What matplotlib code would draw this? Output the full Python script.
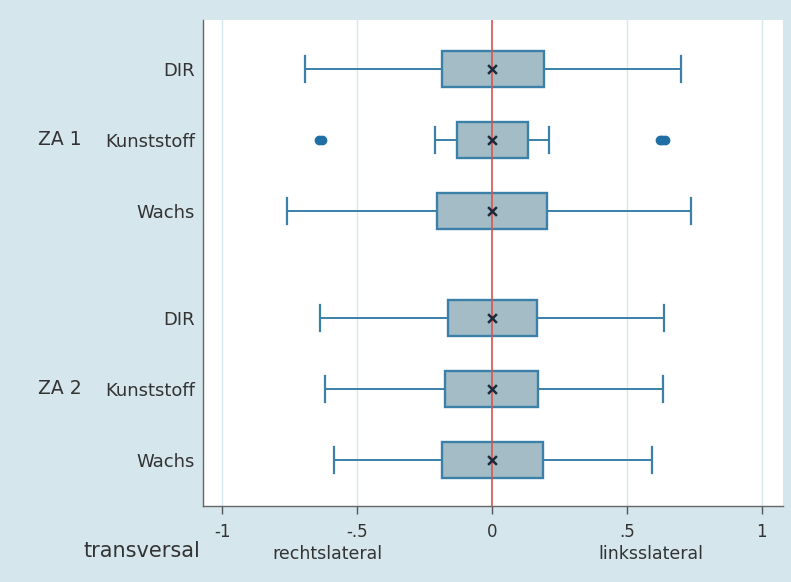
import matplotlib.pyplot as plt
import numpy as np

plt.rcParams['font.family'] = ['DejaVu Sans']

# Daten
groups = ['ZA 1', 'ZA 2']
labels = ['DIR', 'Kunststoff', 'Wachs', 'DIR', 'Kunststoff', 'Wachs']
positions = [0, 1, 2, 3.5, 4.5, 5.5]
whislo = [-0.693, -0.211, -0.760, -0.637, -0.619, -0.585]
q1 = [-0.185, -0.130, -0.204, -0.163, -0.174, -0.185]
med = [0.0, 0.0, 0.0, 0.0, 0.0, 0.0]
q3 = [0.193, 0.133, 0.204, 0.167, 0.170, 0.189]
whishi = [0.700, 0.211, 0.740, 0.640, 0.633, 0.593]
fliers = [[], [-0.640, -0.628, 0.622, 0.632, 0.642], [], [], [], []]

xticks = [-1, -0.5, 0, 0.5, 1]
xticklabels = ['-1', '-.5', '0', '.5', '1']

bg = '#d5e7ec'
edge = '#3a80a9'
fill = '#a3bcc6'
txt = '#333333'

fig, ax = plt.subplots(figsize=(7.91, 5.82), dpi=100)
fig.patch.set_facecolor(bg)
fig.subplots_adjust(left=0.257, right=0.99, top=0.965, bottom=0.13)

stats = []
for i in range(len(labels)):
    stats.append(dict(whislo=whislo[i], q1=q1[i], med=med[i], q3=q3[i],
                      whishi=whishi[i], fliers=fliers[i]))

ax.bxp(stats, positions=positions, vert=False, widths=0.5, patch_artist=True,
       boxprops=dict(facecolor=fill, edgecolor=edge, linewidth=1.7),
       whiskerprops=dict(color=edge, linewidth=1.4),
       capprops=dict(color=edge, linewidth=1.6),
       capwidths=0.37,
       medianprops=dict(linewidth=0),
       flierprops=dict(marker='o', markerfacecolor='#1f6fa5', markeredgecolor='#1f6fa5',
                       markersize=6, linestyle='none'),
       showcaps=True)

ax.axvline(0, color='#d9534f', linewidth=1.2, zorder=4)
ax.scatter(med, positions, marker='x', s=40, color='#1c2a3a', linewidths=1.8, zorder=5)

for x in [-1, -0.5, 0.5, 1]:
    ax.axvline(x, color='#d6e7ee', linewidth=1.0, zorder=0)

ax.set_xlim(-1.07, 1.08)
ax.set_ylim(6.15, -0.68)
ax.set_xticks(xticks)
ax.set_xticklabels(xticklabels, fontsize=12, color=txt)
ax.tick_params(axis='x', length=6, width=1, color='#555555', pad=6)
ax.set_yticks(positions)
ax.set_yticklabels(labels, fontsize=13, color=txt)
ax.tick_params(axis='y', length=0, pad=6)

for s in ['top', 'right']:
    ax.spines[s].set_visible(False)
for s in ['left', 'bottom']:
    ax.spines[s].set_color('#666666')
    ax.spines[s].set_linewidth(1.0)

# Gruppenbeschriftung
for g, y in zip(groups, [1, 4.5]):
    ax.text(-0.21, y, g, transform=ax.get_yaxis_transform(), ha='right', va='center',
            fontsize=13.5, color=txt)

fig.text(0.253, 0.053, 'transversal', ha='right', va='center', fontsize=15, color=txt)
ax.text(-0.61, -0.098, 'rechtslateral', transform=ax.get_xaxis_transform(), ha='center',
        va='center', fontsize=12.5, color=txt)
ax.text(0.59, -0.098, 'linksslateral', transform=ax.get_xaxis_transform(), ha='center',
        va='center', fontsize=12.5, color=txt)

plt.savefig('out.png', dpi=100, facecolor=fig.get_facecolor())
